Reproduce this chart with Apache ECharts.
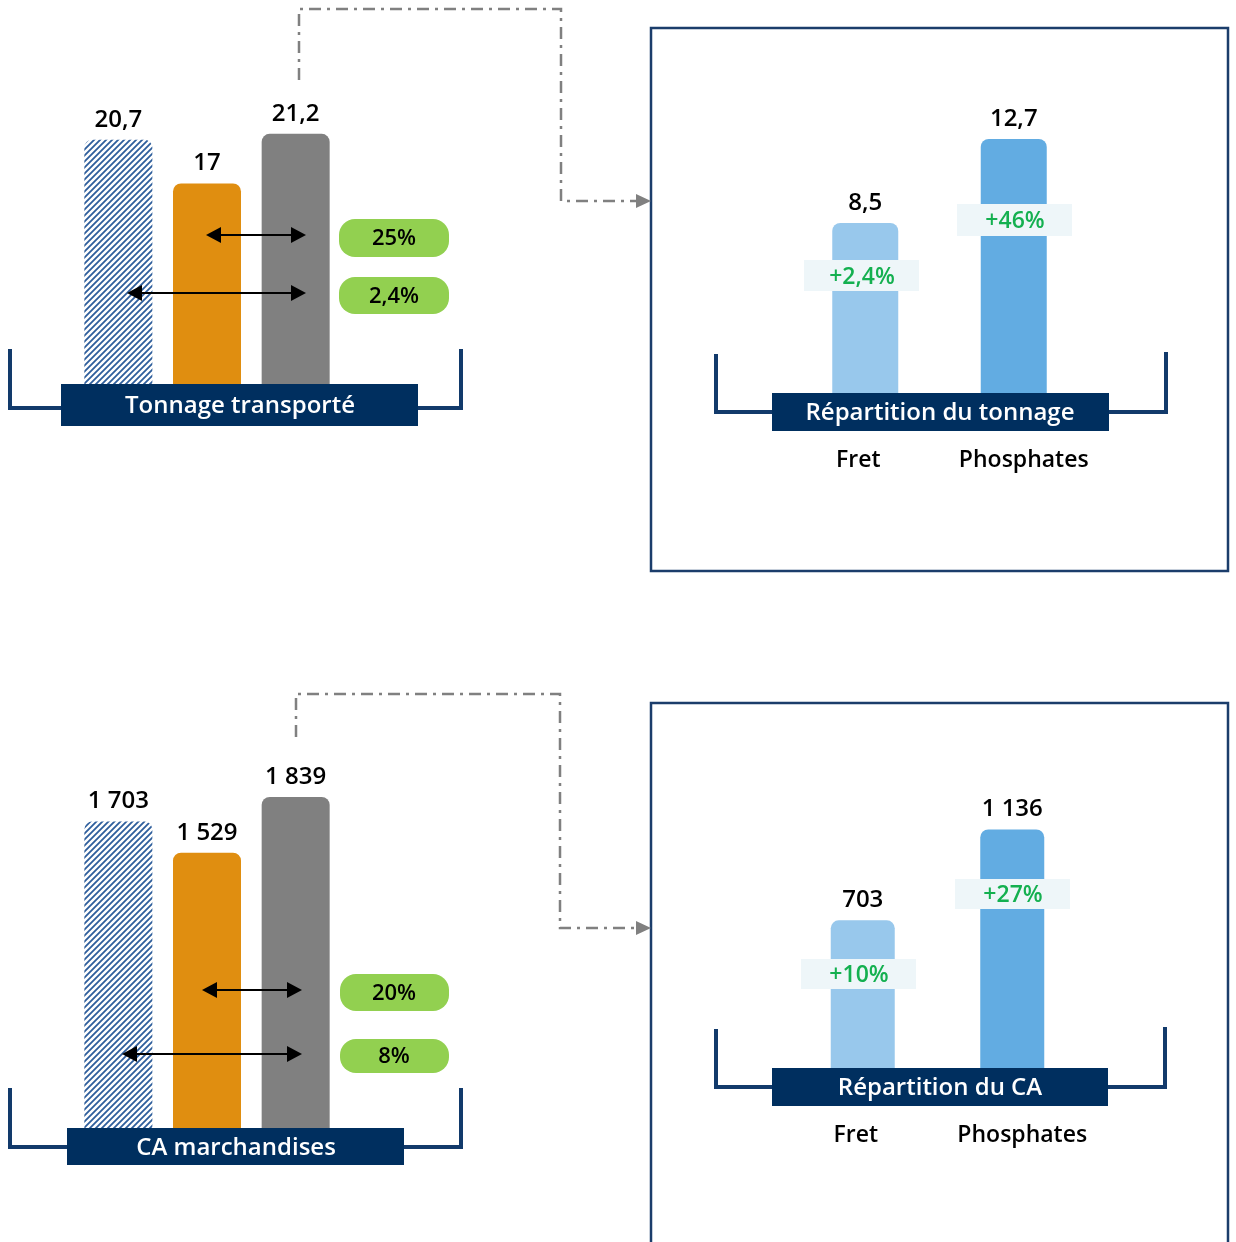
<!DOCTYPE html>
<html><head><meta charset="utf-8">
<script src="https://cdn.jsdelivr.net/npm/echarts@6/dist/echarts.min.js"></script>
<style>html,body{margin:0;padding:0;background:#fff}#c{width:1236px;height:1242px}</style>
</head><body><div id="c"></div>
<script>
// ---- data ----
const leftCategories = ['Barre hachurée', 'Barre orange', 'Barre grise'];
const tonnageValues = [20.7, 17, 21.2];
const tonnageGrowth = ['25%', '2,4%'];
const caValues = [1703, 1529, 1839];
const caGrowth = ['20%', '8%'];
const splitCategories = ['Fret', 'Phosphates'];
const tonnageSplitValues = [8.5, 12.7];
const tonnageSplitGrowth = ['+2,4%', '+46%'];
const caSplitValues = [703, 1136];
const caSplitGrowth = ['+10%', '+27%'];
const panelTitles = ['Tonnage transporté', 'Répartition du tonnage', 'CA marchandises', 'Répartition du CA'];

// ---- styles ----
const FONT = '"Open Sans","Noto Sans",sans-serif';
const NAVY = '#002f5f';
const BRACKET = '#123a6b';
function hatch() {
  const c = document.createElement('canvas'); c.width = 6; c.height = 6;
  const g = c.getContext('2d');
  g.fillStyle = '#ffffff'; g.fillRect(0, 0, 6, 6);
  g.strokeStyle = '#2e5e9c'; g.lineWidth = 1.8;
  g.beginPath();
  g.moveTo(-1, 7); g.lineTo(7, -1);
  g.moveTo(-4, 4); g.lineTo(4, -4);
  g.moveTo(2, 10); g.lineTo(10, 2);
  g.stroke();
  return c;
}
const leftColors = [{ image: hatch(), repeat: 'repeat' }, '#e08e10', '#808080'];
const rightColors = ['#98c8ec', '#62ace2'];

function fmt(v) {
  const s = String(v).replace('.', ',');
  const parts = s.split(',');
  parts[0] = parts[0].replace(/\B(?=(\d{3})+(?!\d))/g, ' ');
  return parts.join(',');
}
function items(vals, colors) {
  return vals.map((v, i) => ({ value: v, itemStyle: { color: colors[i] } }));
}
const valueLabel = {
  show: true, position: 'top', distance: 8, color: '#000',
  fontFamily: FONT, fontSize: 24, fontWeight: 600,
  formatter: p => fmt(p.value)
};

// ---- graphic helpers ----
const G = [];
function txt(t, x, y, size, color, weight, z) {
  G.push({ type: 'text', z: z || 60, style: {
    text: t, x: x, y: y, fill: color, font: (weight || 600) + ' ' + size + 'px ' + FONT,
    align: 'center', verticalAlign: 'middle', textAlign: 'center', textVerticalAlign: 'middle' } });
}
function rect(x, y, w, h, fill, r, z) {
  G.push({ type: 'rect', z: z || 50, shape: { x: x, y: y, width: w, height: h, r: r || 0 }, style: { fill: fill } });
}
function poly(points, stroke, lw, dash) {
  G.push({ type: 'polyline', z: 40, shape: { points: points },
    style: { stroke: stroke, lineWidth: lw, fill: null, lineDash: dash || null } });
}
function dblArrow(x1, x2, y) {
  G.push({ type: 'line', z: 55, shape: { x1: x1 + 10, y1: y, x2: x2 - 10, y2: y }, style: { stroke: '#000', lineWidth: 2 } });
  G.push({ type: 'polygon', z: 55, shape: { points: [[x1, y], [x1 + 15, y - 8], [x1 + 15, y + 8]] }, style: { fill: '#000' } });
  G.push({ type: 'polygon', z: 55, shape: { points: [[x2, y], [x2 - 15, y - 8], [x2 - 15, y + 8]] }, style: { fill: '#000' } });
}
function connector(pts, tipY) {
  poly(pts, '#808080', 2.5, [12, 6, 3, 6]);
  G.push({ type: 'polygon', z: 40, shape: { points: [[636, tipY - 7], [651, tipY], [636, tipY + 7]] }, style: { fill: '#808080' } });
}

// frames
G.push({ type: 'rect', z: 30, shape: { x: 651, y: 28, width: 577, height: 543 }, style: { fill: null, stroke: '#1b3d6b', lineWidth: 2.5 } });
G.push({ type: 'rect', z: 30, shape: { x: 651, y: 703, width: 577, height: 600 }, style: { fill: null, stroke: '#1b3d6b', lineWidth: 2.5 } });

// connectors
connector([[299, 80], [299, 9], [561, 9], [561, 201], [636, 201]], 201);
connector([[296, 737], [296, 694], [560, 694], [560, 928], [636, 928]], 928);

// brackets
poly([[10, 349], [10, 408], [61, 408]], BRACKET, 4);
poly([[418, 408], [461, 408], [461, 349]], BRACKET, 4);
poly([[716, 354], [716, 412], [772, 412]], BRACKET, 4);
poly([[1109, 412], [1166, 412], [1166, 352]], BRACKET, 4);
poly([[10, 1088], [10, 1147], [67, 1147]], BRACKET, 4);
poly([[404, 1147], [461, 1147], [461, 1088]], BRACKET, 4);
poly([[716, 1029], [716, 1087], [772, 1087]], BRACKET, 4);
poly([[1108, 1087], [1165, 1087], [1165, 1027]], BRACKET, 4);

// title boxes
rect(61, 384, 357, 42, NAVY); txt(panelTitles[0], 240, 406, 24, '#fff', 600);
rect(772, 393, 337, 38, NAVY); txt(panelTitles[1], 940, 413, 24, '#fff', 600);
rect(67, 1128, 337, 37, NAVY); txt(panelTitles[2], 236, 1148, 24, '#fff', 600);
rect(772, 1068, 336, 38, NAVY); txt(panelTitles[3], 940, 1088, 24, '#fff', 600);

// double arrows + green pills (left panels)
dblArrow(206, 306, 235); dblArrow(127, 306, 293);
rect(339, 219, 110, 38, '#92d050', 16); txt(tonnageGrowth[0], 394, 239, 22, '#000', 600);
rect(339, 277, 110, 37, '#92d050', 16); txt(tonnageGrowth[1], 394, 297, 22, '#000', 600);
dblArrow(202, 302, 990); dblArrow(122, 302, 1054);
rect(340, 974, 109, 37, '#92d050', 16); txt(caGrowth[0], 394, 994, 22, '#000', 600);
rect(340, 1039, 109, 34, '#92d050', 16); txt(caGrowth[1], 394, 1057, 22, '#000', 600);

// growth boxes (right panels)
const PCT_BG = '#eef6f9', PCT = '#14b050';
rect(804, 260, 115, 31, PCT_BG); txt(tonnageSplitGrowth[0], 862, 277, 23, PCT, 600);
rect(957, 204, 115, 32, PCT_BG); txt(tonnageSplitGrowth[1], 1015, 221, 23, PCT, 600);
rect(801, 959, 115, 30, PCT_BG); txt(caSplitGrowth[0], 859, 975, 23, PCT, 600);
rect(955, 879, 115, 30, PCT_BG); txt(caSplitGrowth[1], 1013, 895, 23, PCT, 600);

// ---- chart ----
const grids = [
  { left: 74, top: 89, width: 266, height: 295 },
  { left: 791, top: 93, width: 297, height: 300 },
  { left: 74, top: 768, width: 266, height: 360 },
  { left: 788, top: 753, width: 299, height: 315 }
];
const maxes = [25, 15, 2000, 1500];
const cats = [leftCategories, splitCategories, leftCategories, splitCategories];
const xAxes = cats.map((c, i) => ({
  type: 'category', gridIndex: i, data: c,
  axisLine: { show: false }, axisTick: { show: false },
  axisLabel: {
    show: i % 2 === 1, interval: 0, margin: 56, color: '#000',
    fontFamily: FONT, fontSize: 23, fontWeight: 600,
    formatter: (v, idx) => idx === 0 ? '{a|' + v + '}' : '{b|' + v + '}',
    rich: {
      a: { fontFamily: FONT, fontSize: 23, fontWeight: 600, color: '#000', padding: [0, 14, 0, 0] },
      b: { fontFamily: FONT, fontSize: 23, fontWeight: 600, color: '#000', padding: [0, 0, 0, 20] }
    }
  }
}));
const yAxes = maxes.map((m, i) => ({ type: 'value', gridIndex: i, min: 0, max: m, show: false, splitLine: { show: false } }));
const radius = [8, 8, 0, 0];
const series = [
  { type: 'bar', xAxisIndex: 0, yAxisIndex: 0, barWidth: 68, data: items(tonnageValues, leftColors), itemStyle: { borderRadius: radius }, label: valueLabel },
  { type: 'bar', xAxisIndex: 1, yAxisIndex: 1, barWidth: 66, data: items(tonnageSplitValues, rightColors), itemStyle: { borderRadius: radius }, label: valueLabel },
  { type: 'bar', xAxisIndex: 2, yAxisIndex: 2, barWidth: 68, data: items(caValues, leftColors), itemStyle: { borderRadius: radius }, label: valueLabel },
  { type: 'bar', xAxisIndex: 3, yAxisIndex: 3, barWidth: 64, data: items(caSplitValues, rightColors), itemStyle: { borderRadius: radius }, label: valueLabel }
];

const chart = echarts.init(document.getElementById('c'), null, { renderer: 'canvas' });
chart.setOption({
  backgroundColor: '#ffffff',
  animation: false,
  grid: grids,
  xAxis: xAxes,
  yAxis: yAxes,
  series: series,
  graphic: { elements: G }
});
</script></body></html>
